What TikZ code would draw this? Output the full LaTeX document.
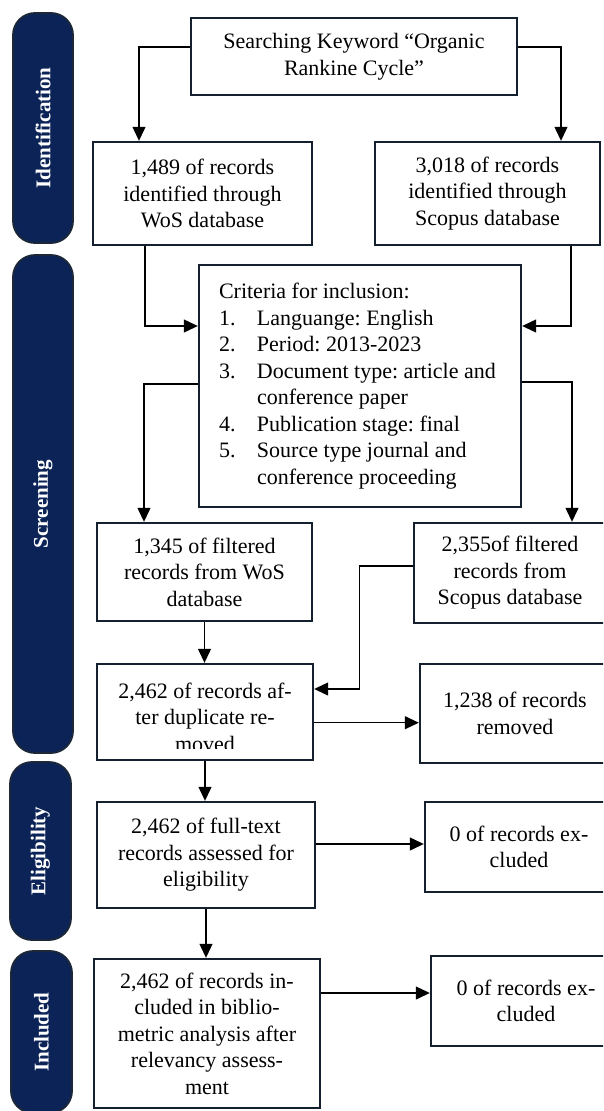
\documentclass[tikz,border=0pt]{standalone}
\usepackage{fontspec}
\setmainfont{Liberation Serif}
\usetikzlibrary{arrows.meta}
\definecolor{navy}{HTML}{0B2357}
\definecolor{tabline}{HTML}{1C2838}
\definecolor{boxline}{HTML}{15202E}
\tikzset{
  box/.style={draw=boxline, line width=2.4pt, fill=white, align=center,
    inner sep=0pt, font=\frenchspacing\fontsize{22}{26.5}\selectfont},
  plain/.style={inner sep=0pt, font=\frenchspacing\fontsize{22}{26.5}\selectfont},
  tab/.style={draw=tabline, fill=navy, line width=1.8pt, rounded corners=22pt,
    rotate=90, text=white, font=\bfseries\fontsize{21}{25}\selectfont, inner sep=0pt},
  link/.style={draw=black, line width=1.2pt},
  arr/.style={link, -{Triangle[length=14pt,width=13pt]}}
}
\begin{document}
\begin{tikzpicture}[x=1pt,y=-1pt]
\useasboundingbox (0,0) rectangle (603,1111);
\clip (0,0) rectangle (603,1111);

% phase tabs down the left side
\node[tab, minimum width=230pt, minimum height=60pt] (tid) at (43,128) {Identification};
\node[tab, minimum width=498pt, minimum height=60pt] (tsc) at (43,504) {Screening};
\node[tab, minimum width=178pt, minimum height=61pt] (tel) at (40.5,851) {Eligibility};
\node[tab, minimum width=162pt, minimum height=61pt] (tin) at (41.5,1032) {Included};

% identification
\node[box, minimum width=326pt, minimum height=77pt] (top) at (354,56.5)
  {Searching Keyword “Organic\\Rankine Cycle”};
\node[box, minimum width=219pt, minimum height=103pt] (wos) at (202.5,193.5)
  {1,489 of records\\identified through\\WoS database};
\node[box, minimum width=225pt, minimum height=103pt] (scop) at (487.5,193.5)
  {3,018 of records\\identified through\\Scopus database};

% screening
\node[box, minimum width=322pt, minimum height=242pt] (crit) at (360,386) {};
\node[plain, align=left, anchor=west] (crittext) at ([xshift=21pt]crit.west)
  {Criteria for inclusion:\\
   \makebox[38pt][l]{1.}Languange: English\\
   \makebox[38pt][l]{2.}Period: 2013-2023\\
   \makebox[38pt][l]{3.}Document type: article and\\
   \hspace*{38pt}conference paper\\
   \makebox[38pt][l]{4.}Publication stage: final\\
   \makebox[38pt][l]{5.}Source type journal and\\
   \hspace*{38pt}conference proceeding};
\node[box, minimum width=215pt, minimum height=98pt] (f1) at (204.5,572)
  {1,345 of filtered\\records from WoS\\database};
\node[box, minimum width=192pt, minimum height=100pt] (f2) at (510,573)
  {2,355of filtered\\records from\\Scopus database};
\node[box, minimum width=216pt, minimum height=96pt] (dup) at (205,712) {};
\begin{scope}
  \clip (dup.north west) rectangle ([yshift=13pt]dup.south east);
  \node[plain, align=center] (duptext) at ([yshift=-5pt]dup.center)
    {2,462 of records af-\\ter duplicate re-\\moved};
\end{scope}
\node[box, minimum width=190pt, minimum height=99pt] (rem) at (515,713.5)
  {1,238 of records\\removed};

% eligibility
\node[box, minimum width=218pt, minimum height=106pt] (elig) at (206,855)
  {2,462 of full-text\\records assessed for\\eligibility};
\node[box, minimum width=188pt, minimum height=90pt] (exc1) at (519,847)
  {0 of records ex-\\cluded};

% included
\node[box, minimum width=226pt, minimum height=149pt] (incl) at (207,1033.5)
  {2,462 of records in-\\cluded in biblio-\\metric analysis after\\relevancy assess-\\ment};
\node[box, minimum width=190pt, minimum height=90pt] (exc2) at (526,1001)
  {0 of records ex-\\cluded};

% connectors
\draw[arr] ([yshift=9.5pt]top.west) -| ([xshift=-63.5pt]wos.north);
\draw[arr] ([yshift=9.5pt]top.east) -| ([xshift=73.5pt]scop.north);
\draw[arr] ([xshift=-57.5pt]wos.south) |- ([yshift=60pt]crit.west);
\draw[arr] ([xshift=83.5pt]scop.south) |- ([yshift=60pt]crit.east);
\draw[arr] ([yshift=2pt]crit.west) -| ([xshift=-60.5pt]f1.north);
\draw[arr] ([yshift=4pt]crit.east) -| ([xshift=62pt]f2.north);
\draw[arr] (f1.south) -- (f1.south |- dup.north);
\draw[arr] ([yshift=7pt]f2.west) -- ++(-53pt,0) |- ([yshift=23pt]dup.east);
\draw[arr] ([yshift=-10.7pt]dup.east) -- ([yshift=-10.7pt]dup.east -| rem.west);
\draw[arr] (dup.south) -- (dup.south |- elig.north);
\draw[arr] ([yshift=11pt]elig.east) -- ([yshift=11pt]elig.east -| exc1.west);
\draw[arr] (elig.south) -- (elig.south |- incl.north);
\draw[arr] ([yshift=40.5pt]incl.east) -- ([yshift=40.5pt]incl.east -| exc2.west);
\end{tikzpicture}
\end{document}
